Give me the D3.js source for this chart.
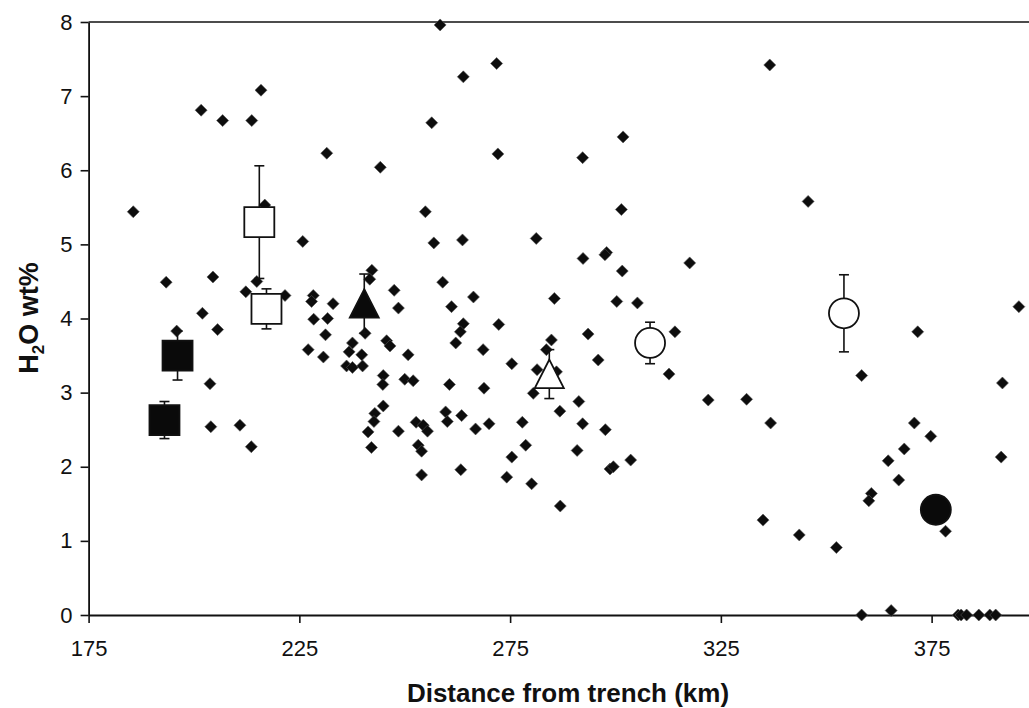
<!DOCTYPE html>
<html>
<head>
<meta charset="utf-8">
<script src="https://cdn.jsdelivr.net/npm/d3@7"></script>
<style>
  html, body { margin: 0; padding: 0; background: #fff; }
  svg { display: block; }
  text { font-family: "Liberation Sans", Arial, sans-serif; }
</style>
</head>
<body>
<svg id="chart" width="1029" height="708"></svg>
<script>
// Individual melt inclusion analyses: distance from trench (km) and H2O (wt%)
const sampleDistance = [
  185.6, 201.7, 206.8, 213.7, 215.9, 231.5, 244.2, 225.8, 216.8, 193.4,
  204.5, 202.0, 195.9, 205.6, 214.9, 212.3, 221.6, 228.3, 227.9, 233.0,
  228.4, 231.7, 242.2, 241.7, 247.5, 248.5, 203.8, 204.0, 210.9, 213.6,
  231.2, 227.1, 230.7, 237.6, 236.8, 239.8, 236.2, 237.6, 240.0, 240.6,
  245.7, 246.5, 244.9, 244.8, 244.9, 242.9, 242.7, 241.3, 242.1, 248.5,
  258.4, 263.9, 271.8, 256.4, 272.1, 292.2, 301.8, 254.9, 256.9, 263.7,
  281.2, 301.4, 292.3, 297.9, 297.5, 301.6, 317.6, 259.0, 266.3, 261.1,
  285.5, 300.3, 305.2, 263.9, 272.3, 263.2, 262.1, 250.8, 268.6, 275.4,
  284.8, 283.6, 293.5, 295.9, 314.1, 312.7, 281.4, 280.5, 286.0, 250.0,
  252.0, 260.6, 268.8, 259.7, 260.1, 263.5, 252.7, 254.4, 255.4, 266.8,
  270.0, 277.9, 286.8, 291.3, 292.2, 297.6, 278.7, 275.4, 253.2, 254.0,
  290.9, 303.6, 298.7, 299.5, 254.0, 263.3, 274.2, 280.1, 286.9, 336.6,
  345.7, 395.7, 371.7, 358.4, 322.0, 331.1, 336.8, 391.8, 370.9, 374.8,
  368.5, 364.7, 391.5, 367.2, 360.7, 360.1, 335.0, 343.6, 352.4, 378.3,
  358.4, 365.4, 381.3, 382.0, 383.3, 386.2, 388.8, 390.2
];
const sampleWater = [
  5.44, 6.81, 6.67, 6.67, 7.08, 6.23, 6.04, 5.04, 5.53, 4.49,
  4.56, 4.07, 3.83, 3.85, 4.50, 4.36, 4.31, 4.31, 4.23, 4.20,
  3.99, 4.00, 4.65, 4.53, 4.38, 4.14, 3.12, 2.54, 2.56, 2.27,
  3.78, 3.58, 3.48, 3.67, 3.55, 3.51, 3.36, 3.34, 3.36, 3.80,
  3.70, 3.63, 3.23, 3.11, 2.82, 2.72, 2.61, 2.47, 2.26, 2.48,
  7.96, 7.26, 7.44, 6.64, 6.22, 6.17, 6.45, 5.44, 5.02, 5.06,
  5.08, 5.47, 4.81, 4.89, 4.86, 4.64, 4.75, 4.49, 4.29, 4.16,
  4.27, 4.23, 4.21, 3.93, 3.92, 3.82, 3.67, 3.51, 3.58, 3.39,
  3.71, 3.58, 3.79, 3.44, 3.82, 3.25, 3.31, 2.99, 3.28, 3.18,
  3.16, 3.11, 3.06, 2.74, 2.61, 2.69, 2.60, 2.56, 2.48, 2.51,
  2.58, 2.60, 2.75, 2.88, 2.58, 2.50, 2.29, 2.13, 2.29, 2.21,
  2.22, 2.09, 1.97, 2.00, 1.89, 1.96, 1.86, 1.77, 1.47, 7.42,
  5.58, 4.16, 3.82, 3.23, 2.90, 2.91, 2.59, 3.13, 2.59, 2.41,
  2.24, 2.08, 2.13, 1.82, 1.64, 1.54, 1.28, 1.08, 0.91, 1.13,
  0.00, 0.06, 0.00, 0.00, 0.00, 0.00, 0.00, 0.00
];

// Volcano means with one standard deviation
const meanDistance = [196.1, 193.0, 215.5, 217.2, 240.4, 284.3, 308.2, 354.2, 376.0];
const meanWater    = [3.50, 2.63, 5.30, 4.13, 4.20, 3.25, 3.67, 4.07, 1.42];
const meanError    = [0.33, 0.25, 0.76, 0.27, 0.40, 0.33, 0.28, 0.52, 0];
const meanShape    = ["square", "square", "square", "square", "triangle", "triangle", "circle", "circle", "circle"];
const meanFilled   = [true, true, false, false, true, false, false, false, true];

const xTicks = [175, 225, 275, 325, 375];
const yTicks = [0, 1, 2, 3, 4, 5, 6, 7, 8];

const svg = d3.select("#chart");

const x = d3.scaleLinear().domain([175, 400]).range([88.6, 1037]);
const y = d3.scaleLinear().domain([0, 8]).range([615, 22]);

// plot frame: top border
svg.append("line")
  .attr("x1", x(175)).attr("x2", 1029)
  .attr("y1", y(8)).attr("y2", y(8))
  .attr("stroke", "#111").attr("stroke-width", 1.6);

// x axis
const gx = svg.append("g")
  .attr("transform", `translate(0,${y(0)})`)
  .call(d3.axisBottom(x).tickValues(xTicks).tickFormat(d3.format("d"))
    .tickSize(8).tickSizeOuter(0).tickPadding(17));
gx.select(".domain").attr("stroke", "#111").attr("stroke-width", 1.8);
gx.selectAll(".tick line").attr("stroke", "#111").attr("stroke-width", 1.6);
gx.selectAll(".tick text").attr("font-size", 22).attr("fill", "#111")
  .attr("font-family", "'Liberation Sans', Arial, sans-serif");

// y axis
const gy = svg.append("g")
  .attr("transform", `translate(${x(175)},0)`)
  .call(d3.axisLeft(y).tickValues(yTicks).tickFormat(d3.format("d"))
    .tickSize(8).tickSizeOuter(0).tickPadding(8));
gy.select(".domain").attr("stroke", "#111").attr("stroke-width", 1.8);
gy.selectAll(".tick line").attr("stroke", "#111").attr("stroke-width", 1.6);
gy.selectAll(".tick text").attr("font-size", 22).attr("fill", "#111")
  .attr("font-family", "'Liberation Sans', Arial, sans-serif");

// individual analyses as diamonds
const diamond = "M0,-6L6,0L0,6L-6,0Z";
svg.append("g").selectAll("path")
  .data(d3.range(sampleDistance.length))
  .join("path")
  .attr("d", diamond)
  .attr("transform", i => `translate(${x(sampleDistance[i])},${y(sampleWater[i])})`)
  .attr("fill", "#0d0d0d")
  .attr("stroke", "#555")
  .attr("stroke-width", 0.6);

// error bars behind the mean markers
const means = d3.range(meanDistance.length);
const eb = svg.append("g").attr("stroke", "#111").attr("stroke-width", 1.6);
means.filter(i => meanError[i] > 0).forEach(i => {
  const cx = x(meanDistance[i]);
  const top = y(meanWater[i] + meanError[i]);
  const bot = y(meanWater[i] - meanError[i]);
  eb.append("line").attr("x1", cx).attr("x2", cx).attr("y1", top).attr("y2", bot);
  eb.append("line").attr("x1", cx - 5).attr("x2", cx + 5).attr("y1", top).attr("y2", top);
  eb.append("line").attr("x1", cx - 5).attr("x2", cx + 5).attr("y1", bot).attr("y2", bot);
});

// mean markers
const shapes = {
  square: "M-15,-15H15V15H-15Z",
  triangle: "M0,-14.5L14.5,14L-14.5,14Z",
  circle: d3.arc()({innerRadius: 0, outerRadius: 15, startAngle: 0, endAngle: 2 * Math.PI})
};
svg.append("g").selectAll("path")
  .data(means)
  .join("path")
  .attr("d", i => shapes[meanShape[i]])
  .attr("transform", i => `translate(${x(meanDistance[i])},${y(meanWater[i])})`)
  .attr("fill", i => meanFilled[i] ? "#0a0a0a" : "#fff")
  .attr("stroke", "#111")
  .attr("stroke-width", 1.8);

// axis titles
svg.append("text")
  .attr("x", 568).attr("y", 702)
  .attr("text-anchor", "middle")
  .attr("font-size", 26).attr("font-weight", "bold").attr("fill", "#111")
  .text("Distance from trench (km)");

const yt = svg.append("text")
  .attr("transform", "translate(38,318) rotate(-90)")
  .attr("text-anchor", "middle")
  .attr("font-size", 27).attr("font-weight", "bold").attr("fill", "#111");
yt.append("tspan").text("H");
yt.append("tspan").attr("font-size", 17).attr("dy", 6).text("2");
yt.append("tspan").attr("dy", -6).text("O wt%");
</script>
</body>
</html>
